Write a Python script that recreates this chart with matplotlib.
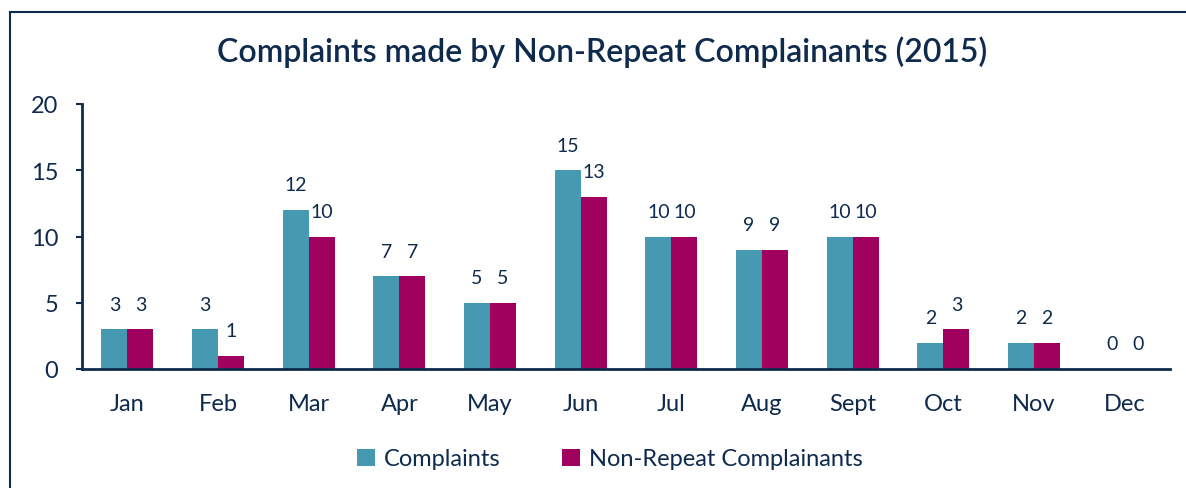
import matplotlib.pyplot as plt
import matplotlib.lines as mlines
import numpy as np

# data
months=['Jan','Feb','Mar','Apr','May','Jun','Jul','Aug','Sept','Oct','Nov','Dec']
complaints=[3,3,12,7,5,15,10,9,10,2,2,0]
nonrepeat=[3,1,10,7,5,13,10,9,10,3,2,0]

navy='#0E2A4C'
teal='#4599B1'
magenta='#A0005E'

plt.rcParams['font.family']=['Lato','DejaVu Sans']

fig=plt.figure(figsize=(11.86,4.89),dpi=100)
ax=fig.add_axes([82/1186,1-370/489,1088/1186,265/489])

x=np.arange(len(months))
w=0.287
b1=ax.bar(x-w/2,complaints,w,color=teal,label='Complaints')
b2=ax.bar(x+w/2,nonrepeat,w,color=magenta,label='Non-Repeat Complainants')

for bars,vals in ((b1,complaints),(b2,nonrepeat)):
    for bar,v in zip(bars,vals):
        ax.annotate(f'{v}',(bar.get_x()+bar.get_width()/2,v),xytext=(0,12),
                    textcoords='offset points',ha='center',va='bottom',
                    fontsize=14,color=navy)

ax.set_xlim(-0.5,11.5)
ax.set_ylim(0,20)
ax.set_yticks([0,5,10,15,20])
ax.set_xticks(x)
ax.set_xticklabels(months)

for s in ['top','right']:
    ax.spines[s].set_visible(False)
for s in ['left','bottom']:
    ax.spines[s].set_color(navy)
    ax.spines[s].set_linewidth(2)

ax.tick_params(axis='y',length=4,width=1.5,color=navy,pad=13,labelsize=17,labelcolor=navy)
ax.tick_params(axis='x',length=0,pad=17,labelsize=17,labelcolor=navy)

fig.text(0.508,1-52/489,'Complaints made by Non-Repeat Complainants (2015)',
         ha='center',va='center',fontsize=23,color=navy,fontweight='semibold')

fig.legend(handles=[b1,b2],loc='center',bbox_to_anchor=(610/1186,1-460/489),
           ncol=2,frameon=False,fontsize=17,labelcolor=navy,handlelength=0.75,
           handleheight=0.75,handletextpad=0.4,columnspacing=2.6)

# outer frame, cut off at right and bottom
fig.add_artist(mlines.Line2D([10/1186,1],[1-13/489,1-13/489],color=navy,lw=1.5,transform=fig.transFigure))
fig.add_artist(mlines.Line2D([10/1186,10/1186],[0,1-13/489],color=navy,lw=1.5,transform=fig.transFigure))

plt.savefig('out.png',dpi=100)
